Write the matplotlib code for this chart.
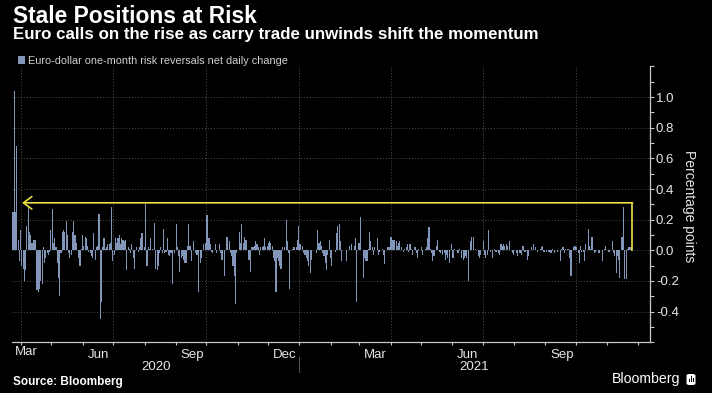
import numpy as np
import pandas as pd
import matplotlib
matplotlib.use("Agg")
import matplotlib.pyplot as plt
import matplotlib.dates as mdates
from matplotlib.ticker import MultipleLocator, FixedLocator
from matplotlib.transforms import ScaledTranslation, blended_transform_factory
from matplotlib.patches import Rectangle, FancyBboxPatch

# Daily change of EUR/USD 1M risk reversals left to right
chg_spring_summer_2020 = [
    0.25, 1.04, 0.25, 0.68, 0.07, -0.07, 0.13, -0.10, -0.12, -0.20, -0.13, 0.16,
    0.28, 0.12, 0.10, 0.05, 0.07, 0.07, 0.07, -0.26, -0.27, -0.25, -0.20, -0.22,
    0.02, -0.08, -0.05, -0.02, -0.03, -0.01, 0.13, 0.27, 0.05, 0.08, 0.02, -0.08,
    -0.18, -0.30, -0.02, 0.12, 0.13, 0.12, 0.19, 0.10, -0.02, -0.05, -0.03, 0.12,
    0.19, 0.10, 0.05, 0.00, -0.05, -0.10, 0.01, 0.10, 0.03, 0.09, 0.08, 0.03,
    -0.01, -0.02, -0.04, -0.05, 0.11, -0.06, 0.02, 0.03, 0.24, -0.45, -0.34, 0.02,
    0.08, 0.01, 0.02, 0.04, 0.04, 0.05, 0.28, -0.07, -0.03, 0.08, 0.05, 0.08,
    0.10, 0.04, 0.08, 0.07, 0.06, 0.07, -0.13, 0.02, 0.01, -0.02, 0.04, -0.05,
    -0.12, 0.00, 0.02, -0.01, 0.02, 0.08, 0.11, 0.00, 0.02, 0.30, -0.10, 0.02,
    0.01, 0.08, 0.01, 0.00, 0.18, -0.12, -0.13, -0.10, -0.02, 0.02, -0.02, 0.14,
    -0.02, -0.01, 0.08, -0.03, -0.04, -0.02, -0.22,
]
chg_autumn_winter_2020 = [
    0.00, -0.02, 0.17, 0.02, -0.04, -0.14, -0.05, -0.04, -0.06, -0.08, -0.08, 0.03,
    0.17, 0.03, -0.07, 0.00, 0.06, -0.02, -0.03, -0.03, -0.27, -0.08, -0.05, 0.00,
    0.04, 0.05, 0.23, 0.23, 0.08, 0.04, -0.01, -0.02, 0.00, 0.04, -0.02, 0.00,
    0.04, -0.02, -0.06, -0.06, -0.17, 0.00, 0.09, 0.09, 0.06, -0.02, -0.04, -0.10,
    -0.17, -0.35, -0.02, 0.00, 0.12, 0.05, 0.17, 0.05, 0.09, 0.07, 0.07, -0.06,
    -0.06, -0.14, 0.02, 0.02, 0.03, 0.06, 0.04, 0.02, -0.03, 0.02, 0.02, 0.03,
    0.08, 0.02, 0.03, 0.05, 0.06, 0.05, 0.03, -0.05, -0.07, -0.27, -0.05, -0.07,
    -0.10, -0.12, 0.02, 0.00, 0.02, 0.20, 0.06, -0.02, -0.25, 0.00, 0.01, 0.02,
    0.02, 0.02, 0.07, 0.16, 0.04, 0.00, 0.03, -0.02, -0.03, -0.05, -0.07, -0.10,
    -0.15, -0.06, 0.00, 0.00, 0.00, -0.02, 0.13, 0.05, 0.06, 0.03, -0.02, -0.04,
    -0.08, -0.13,
]
chg_spring_summer_2021 = [
    -0.03, 0.07, -0.05, -0.10, 0.00, 0.00, -0.01, 0.11, 0.16, 0.17, 0.06, -0.07,
    0.00, 0.00, 0.00, -0.07, 0.00, 0.03, 0.00, 0.04, 0.00, 0.03, 0.08, -0.34,
    0.05, 0.05, 0.22, 0.00, -0.18, -0.05, -0.07, -0.07, 0.01, 0.12, 0.06, 0.02,
    -0.03, 0.02, 0.00, 0.08, -0.03, -0.01, 0.00, 0.01, -0.03, -0.09, 0.00, 0.02,
    0.02, 0.02, 0.09, 0.07, 0.07, 0.07, 0.06, 0.03, 0.05, 0.06, 0.02, 0.00,
    -0.01, 0.01, 0.02, 0.04, -0.01, 0.04, 0.01, -0.03, 0.00, 0.02, -0.02, -0.05,
    0.01, 0.00, 0.02, -0.03, 0.00, 0.01, 0.02, 0.08, 0.15, 0.01, -0.02, -0.07,
    -0.04, 0.00, 0.03, 0.07, -0.01, -0.02, 0.00, -0.03, -0.02, -0.06, -0.03, -0.05,
    -0.08, 0.00, 0.04, -0.05, 0.01, 0.00, 0.00, -0.02, 0.01, 0.00, -0.05, -0.06,
    -0.05, -0.04, -0.05, -0.20, 0.00, 0.06, 0.09, 0.09, 0.00, 0.01, 0.00, -0.04,
    -0.05, -0.03, 0.00,
]
chg_autumn_2021 = [
    0.06, -0.03, -0.05, -0.03, 0.13, 0.00, -0.01, -0.05, 0.00, 0.01, -0.01, 0.00,
    -0.02, -0.03, 0.04, 0.03, 0.04, 0.03, 0.04, 0.03, 0.00, 0.06, 0.00, -0.02,
    -0.03, 0.00, -0.02, -0.04, 0.00, -0.02, -0.03, 0.03, 0.03, -0.01, 0.00, -0.06,
    -0.04, 0.00, 0.02, 0.00, 0.04, 0.02, 0.00, -0.01, 0.00, 0.01, 0.02, 0.03,
    -0.01, 0.00, -0.01, 0.00, -0.01, -0.02, -0.02, 0.01, -0.02, 0.00, 0.00, -0.01,
    0.00, -0.07, 0.01, 0.02, -0.02, 0.01, 0.00, 0.01, -0.05, -0.17, -0.17, 0.02,
    0.03, 0.03, 0.02, -0.02, -0.08, 0.03, -0.01, -0.01, -0.07, 0.04, 0.00, 0.14,
    0.03, 0.01, 0.09, 0.00, -0.02, -0.01, 0.00, -0.02, -0.02, 0.00, -0.07, 0.00,
    0.01, 0.03, 0.00, -0.01, -0.01, 0.00, 0.06, -0.02, -0.04, -0.15, -0.04, -0.06,
    -0.18, 0.09, 0.09, 0.28, -0.19, -0.19, 0.01, 0.02, 0.02, 0.02, 0.00,
]
changes = (chg_spring_summer_2020 + chg_autumn_winter_2020
           + chg_spring_summer_2021 + chg_autumn_2021)

first_day = pd.Timestamp("2020-03-24")
last_day = pd.Timestamp("2021-11-26")
dates = pd.date_range(first_day, last_day, periods=len(changes))

# yellow marker: latest level, drawn back to the last time it was this high
marker_level = 0.31
marker_from = pd.Timestamp("2020-04-02")

y_ticks = [-0.4, -0.2, 0.0, 0.2, 0.4, 0.6, 0.8, 1.0]
x_start = pd.Timestamp("2020-03-23")
x_end = pd.Timestamp("2021-12-13")

title = "Stale Positions at Risk"
subtitle = "Euro calls on the rise as carry trade unwinds shift the momentum"
series_name = "Euro-dollar one-month risk reversals net daily change"

# ---- style
W, H = 712, 393
bg = "black"
bar_col = "#8296ba"
txt_col = "#e6e6e6"
axis_col = "#c8c8c8"
grid_col = "#505050"
yellow = "#eedd44"
sans = ["Liberation Sans", "DejaVu Sans"]
narrow = ["Liberation Sans Narrow", "Liberation Sans", "DejaVu Sans"]
plt.rcParams["font.family"] = sans

fig = plt.figure(figsize=(W / 100, H / 100), dpi=100, facecolor=bg)
ax = fig.add_axes([12 / W, 1 - 342.3 / H, (649.7 - 12) / W, (342.3 - 66.4) / H])
ax.set_facecolor(bg)

bars = ax.bar(dates, changes, width=1.1, color=bar_col, linewidth=0, zorder=2)
ax.set_xlim(x_start, x_end)
ax.set_ylim(-0.6, 1.2)

# grid
dot = (0, (1, 2))
ax.set_yticks(y_ticks)
ax.yaxis.grid(True, color=grid_col, linestyle=dot, linewidth=0.7, zorder=0)
for q in pd.date_range("2020-04-01", "2021-10-01", freq="QS"):
    ax.axvline(q, color=grid_col, linestyle=dot, linewidth=0.7, zorder=0)

# spines
for s in ["top", "left"]:
    ax.spines[s].set_visible(False)
for s in ["right", "bottom"]:
    ax.spines[s].set_color(axis_col)
    ax.spines[s].set_linewidth(0.9)

# y axis on the right
ax.yaxis.tick_right()
ax.set_yticklabels([f"{v:.1f}" for v in y_ticks], family=narrow)
ax.yaxis.set_minor_locator(MultipleLocator(0.1))
ax.tick_params(axis="y", which="both", direction="out", length=3, width=0.8,
               color=axis_col, labelcolor=txt_col, labelsize=9.5, pad=1.5)
fig.text(689.5 / W, 1 - 206 / H, "Percentage points", rotation=270, ha="center",
         va="center", color=txt_col, fontsize=10)

# x axis: month ticks, quarter labels left aligned after the tick
ax.xaxis.set_minor_locator(mdates.MonthLocator())
q_labels = pd.date_range("2020-06-01", "2021-09-01", freq="3MS")
ax.xaxis.set_major_locator(FixedLocator(mdates.date2num(q_labels)))
ax.xaxis.set_major_formatter(mdates.DateFormatter("%b"))
ax.tick_params(axis="x", which="both", direction="out", length=2.5, width=0.8,
               color=axis_col, labelcolor=txt_col, labelsize=9.5, pad=2)
fig.canvas.draw()
shift = ScaledTranslation(4.5 / 100, 0, fig.dpi_scale_trans)
for tk in ax.xaxis.get_major_ticks():
    tk.label1.set_horizontalalignment("left")
    tk.label1.set_family(narrow)
    tk.label1.set_transform(tk.label1.get_transform() + shift)

bt = blended_transform_factory(ax.transData, ax.transAxes)
px = 1 / (342.3 - 66.4)  # one pixel in axes units
ax.text(x_start, (342.3 - 355) * px, "Mar", transform=bt + ScaledTranslation(3 / 100, 0, fig.dpi_scale_trans),
        ha="left", va="baseline", color=txt_col, fontsize=9.5, family=narrow)
new_year = pd.Timestamp("2021-01-01")
ax.text(x_start + (new_year - x_start) / 2, (342.3 - 370) * px, "2020", transform=bt,
        ha="center", va="baseline", color=txt_col, fontsize=9.5, family=narrow)
ax.text(new_year + (x_end - new_year) / 2, (342.3 - 370) * px, "2021", transform=bt,
        ha="center", va="baseline", color=txt_col, fontsize=9.5, family=narrow)
ax.plot([new_year, new_year], [(342.3 - 356.5) * px, (342.3 - 372) * px], transform=bt,
        color=grid_col, linewidth=0.8, clip_on=False)

# yellow annotation
ax.plot([last_day, last_day], [0, marker_level], color=yellow, linewidth=1.2, zorder=3)
ax.annotate("", xy=(mdates.date2num(marker_from), marker_level),
            xytext=(mdates.date2num(last_day), marker_level),
            arrowprops=dict(arrowstyle="->,head_length=0.6,head_width=0.45",
                            color=yellow, lw=1.2, mutation_scale=10,
                            shrinkA=0, shrinkB=0), zorder=3)

# titles
def fit_width(t, target_px):
    r = fig.canvas.get_renderer()
    w = t.get_window_extent(r).width
    t.set_fontsize(t.get_fontsize() * target_px / w)

t1 = fig.text(13 / W, 1 - 23.3 / H, title, color="white", weight="bold",
              fontsize=14, va="baseline")
t2 = fig.text(13 / W, 1 - 39.2 / H, subtitle, color="white", weight="bold",
              fontsize=10, va="baseline")
src = fig.text(13 / W, 1 - 384.5 / H, "Source: Bloomberg", color="white",
               weight="bold", fontsize=7, va="baseline")
logo = fig.text(611.7 / W, 1 - 383.3 / H, "Bloomberg", color="white",
                fontsize=9, va="baseline")
fit_width(t1, 245)
fit_width(t2, 527)
fit_width(src, 109)
fit_width(logo, 68)

leg = fig.legend([bars], [series_name], loc="upper left",
                 bbox_to_anchor=(18 / W, 1 - 55.5 / H), frameon=False,
                 fontsize=7.3, labelcolor="#d0d0d0", handlelength=0.7,
                 handleheight=0.7, handletextpad=0.25, borderpad=0,
                 borderaxespad=0)
fit_width(leg.get_texts()[0], 259)

# logo icon
fig.patches.append(FancyBboxPatch((686.5 / W, 1 - 385 / H), 9 / W, 11 / H,
                                  boxstyle="round,pad=0,rounding_size=0.004",
                                  transform=fig.transFigure, facecolor="white",
                                  edgecolor="none"))
for bx, bh in [(688.5, 3), (690.5, 6), (692.5, 4)]:
    fig.patches.append(Rectangle((bx / W, 1 - 381.5 / H), 1.1 / W, bh / H,
                                 transform=fig.transFigure, facecolor="black",
                                 edgecolor="none"))

fig.savefig("out.png", dpi=100, facecolor=bg)
